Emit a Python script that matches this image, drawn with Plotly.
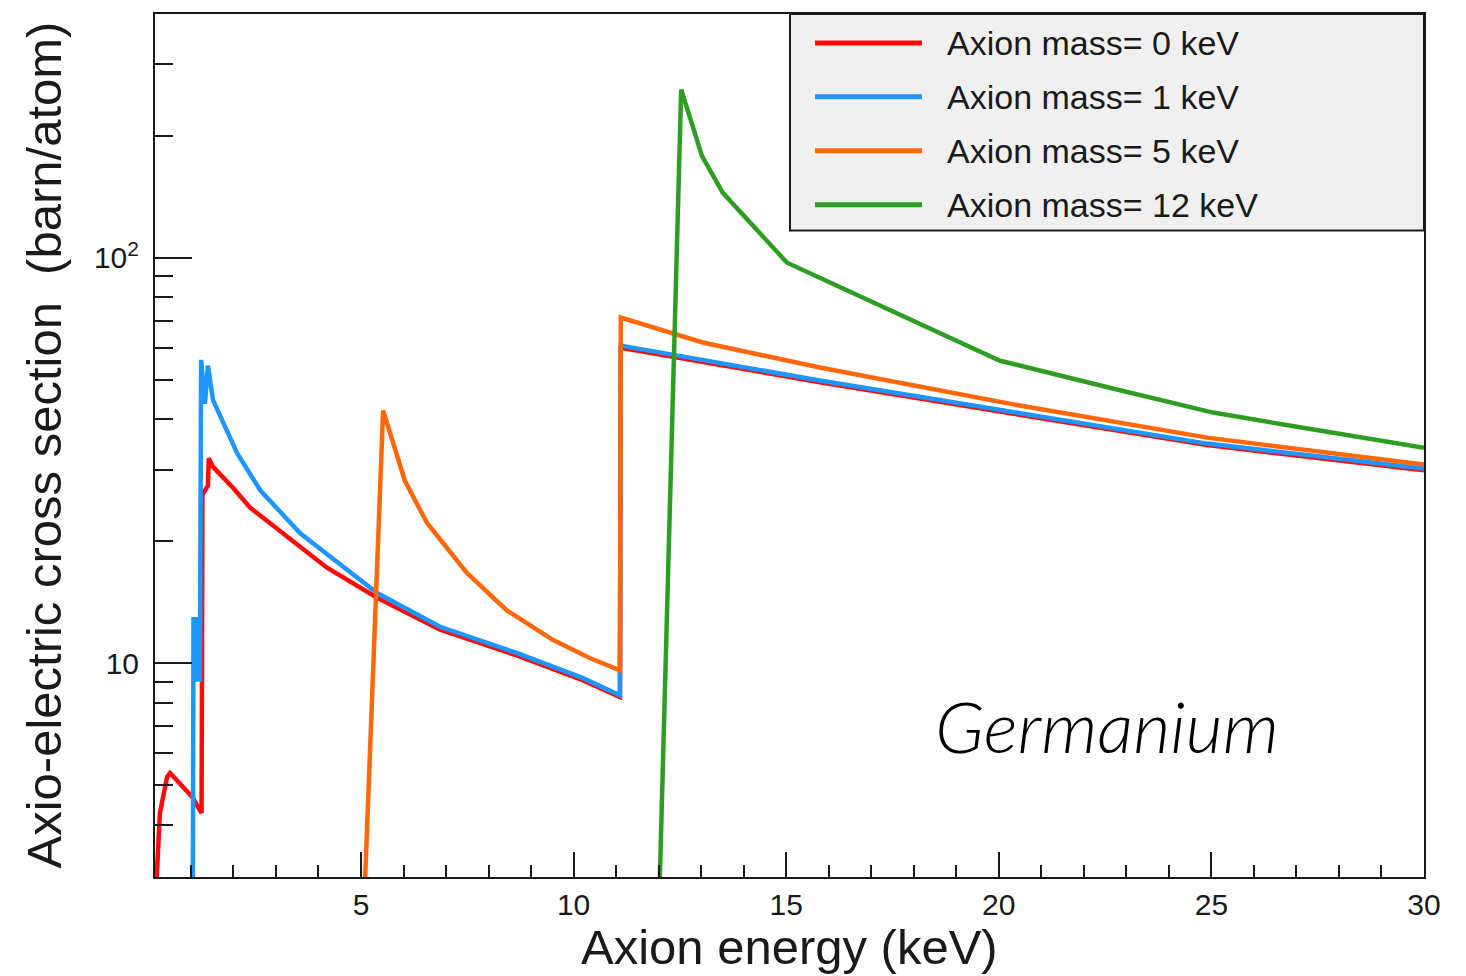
import plotly.graph_objects as go

# Axio-electric cross section in germanium (barn/atom) versus axion energy (keV)
energy_m0 = [0.16, 0.27, 0.44, 0.51, 1.03, 1.25, 1.26, 1.27, 1.40, 1.42, 1.52, 2.00, 2.39,
             3.57, 4.20, 5.38, 6.86, 8.66, 10.21, 11.09, 11.11, 15.79, 20.49, 24.90, 30.0]
sigma_m0 = [2.5, 4.27, 5.24, 5.36, 4.68, 4.27, 9.0, 26.0, 27.4, 32.0, 30.5, 27.0, 24.2,
            19.3, 17.2, 14.5, 12.1, 10.45, 9.08, 8.25, 60.0, 49.3, 41.1, 34.5, 29.9]

energy_m1 = [1.04, 1.06, 1.10, 1.15, 1.21, 1.24, 1.33, 1.40, 1.52, 2.09, 2.63, 3.57, 5.38,
             6.86, 8.66, 10.21, 11.09, 11.11, 15.79, 20.49, 24.90, 30.0]
sigma_m1 = [1.5, 13.0, 9.0, 13.0, 9.0, 56.0, 43.6, 54.2, 44.5, 32.9, 26.7, 20.9, 14.9,
            12.3, 10.6, 9.2, 8.34, 60.7, 49.8, 41.5, 34.8, 30.2]

energy_m5 = [5.00, 5.52, 6.03, 6.55, 7.49, 8.43, 9.52, 10.38, 11.09, 11.11, 13.04, 15.79,
             20.49, 24.90, 30.0]
sigma_m5 = [1.6, 42.0, 28.2, 22.2, 16.7, 13.5, 11.4, 10.3, 9.6, 71.2, 61.8, 53.6,
            43.2, 36.0, 30.9]

energy_m12 = [12.00, 12.53, 13.02, 13.51, 15.02, 20.03, 22.68, 25.04, 27.26, 30.0]
sigma_m12 = [2.3, 260.0, 178.0, 144.5, 97.2, 55.7, 47.6, 41.5, 37.9, 34.0]

series_labels = ["Axion mass= 0 keV", "Axion mass= 1 keV", "Axion mass= 5 keV", "Axion mass= 12 keV"]
series_colors = ["#ff0a0a", "#1e96ff", "#ff680a", "#2e9e22"]

y_major = [10, 100]
y_major_text = ["10", "10<sup>2</sup>"]
y_minor = [4, 5, 6, 7, 8, 9, 20, 30, 40, 50, 60, 70, 80, 90, 200, 300]

FONT = "Liberation Sans, Arial, Helvetica, sans-serif"
INK = "#1a1a1a"

fig = go.Figure()
series = [(energy_m0, sigma_m0), (energy_m1, sigma_m1), (energy_m5, sigma_m5), (energy_m12, sigma_m12)]
for (ex, sy), name, color in zip(series, series_labels, series_colors):
    fig.add_trace(go.Scatter(x=ex, y=sy, mode="lines", name=name, showlegend=False,
                             line=dict(color=color, width=4.5)))

fig.update_layout(
    width=1466, height=976,
    margin=dict(l=155, r=42, t=12, b=99),
    paper_bgcolor="white", plot_bgcolor="white",
    font=dict(family=FONT, color=INK),
)

fig.update_xaxes(
    range=[0.155, 30], showgrid=False, zeroline=False,
    showline=True, linecolor=INK, linewidth=2, mirror=True,
    ticks="inside", ticklen=25, tickwidth=2, tickcolor=INK, dtick=5, tick0=0,
    tickfont=dict(size=30, family=FONT, color=INK),
    minor=dict(ticks="inside", ticklen=12, tickwidth=2, tickcolor=INK, dtick=1, tick0=0),
)
fig.update_yaxes(
    type="log", range=[0.4728, 2.601], showgrid=False, zeroline=False,
    showline=True, linecolor=INK, linewidth=2, mirror=True,
    ticks="inside", ticklen=37, tickwidth=2, tickcolor=INK,
    tickmode="array", tickvals=y_major, ticktext=y_major_text,
    tickfont=dict(size=30, family=FONT, color=INK), ticklabelstandoff=8,
    minor=dict(ticks="inside", ticklen=18, tickwidth=2, tickcolor=INK,
               tickmode="array", tickvals=y_minor),
)

# Axis titles
fig.add_annotation(text="Axion energy (keV)", xref="paper", yref="paper", x=0.5, y=0,
                   xanchor="center", yanchor="middle", yshift=-70, showarrow=False,
                   font=dict(size=49, family=FONT, color=INK))
fig.add_annotation(text="Axio-electric cross section  (barn/atom)", xref="paper", yref="paper",
                   x=0, y=0.5, xanchor="center", yanchor="middle", xshift=-112, textangle=-90,
                   showarrow=False, font=dict(size=49, family=FONT, color=INK))

# Material label
fig.add_annotation(text="Germanium", xref="paper", yref="paper", x=0.750, y=0.176,
                   xanchor="center", yanchor="middle", showarrow=False,
                   font=dict(size=72, family="Lato, Open Sans, sans-serif", style="italic",
                             weight=300, color="black"))

# Legend box with line samples and labels
box_x0, box_y0 = 0.5004, 0.749
fig.add_shape(type="rect", xref="paper", yref="paper", x0=box_x0, x1=1.0, y0=box_y0, y1=1.0,
              fillcolor="#f0f0f0", line=dict(color=INK, width=2), layer="above")
row_top, row_step = 0.9665, 0.0625
for i, (name, color) in enumerate(zip(series_labels, series_colors)):
    yy = row_top - i * row_step
    fig.add_shape(type="line", xref="paper", yref="paper", x0=0.5201, x1=0.6044, y0=yy, y1=yy,
                  line=dict(color=color, width=5), layer="above")
    fig.add_annotation(text=name, xref="paper", yref="paper", x=0.6225, y=yy,
                       xanchor="left", yanchor="middle", showarrow=False,
                       font=dict(size=34, family=FONT, color=INK))

fig.write_html("out.html")
